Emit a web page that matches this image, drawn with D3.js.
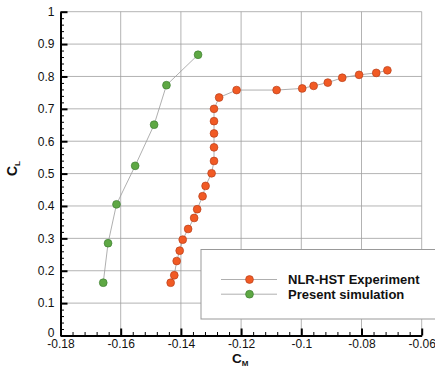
<!DOCTYPE html>
<html>
<head>
<style>
  body { margin: 0; background: #fff; }
  svg text { font-family: "Liberation Sans", Arial, Helvetica, sans-serif; }
</style>
</head>
<body>
<script src="https://d3js.org/d3.v7.min.js"></script>
<script>
// NLR-HST experiment (C_M, C_L)
const expCM = [-0.1434, -0.1422, -0.1414, -0.1404, -0.1394, -0.1376, -0.1356, -0.1346, -0.1328, -0.1318,
               -0.1298, -0.1290, -0.1290, -0.1290, -0.1290, -0.1290, -0.1273, -0.1215, -0.1082, -0.0997,
               -0.0959, -0.0912, -0.0864, -0.0808, -0.0751, -0.0714]
const expCL = [0.163, 0.186, 0.230, 0.262, 0.296, 0.329, 0.363, 0.390, 0.430, 0.462,
               0.501, 0.539, 0.581, 0.624, 0.662, 0.700, 0.735, 0.758, 0.758, 0.763,
               0.771, 0.781, 0.796, 0.805, 0.811, 0.819]

// present simulation
const simCM = [-0.1658, -0.1642, -0.1614, -0.1552, -0.1489, -0.1448, -0.1343]
const simCL = [0.163, 0.285, 0.405, 0.524, 0.651, 0.773, 0.867]

const xTicks = [-0.18, -0.16, -0.14, -0.12, -0.1, -0.08, -0.06]
const xTickLabels = ["-0.18", "-0.16", "-0.14", "-0.12", "-0.1", "-0.08", "-0.06"]
const yTicks = [0, 0.1, 0.2, 0.3, 0.4, 0.5, 0.6, 0.7, 0.8, 0.9, 1]
const yTickLabels = ["0", "0.1", "0.2", "0.3", "0.4", "0.5", "0.6", "0.7", "0.8", "0.9", "1"]
const seriesNames = ["NLR-HST Experiment", "Present simulation"]

const w = 435
const h = 372
const plotL = 60.5, plotR = 421.7, plotT = 11.7, plotB = 335.5

const x = d3.scaleLinear().domain([-0.18, -0.06]).range([plotL, plotR])
const y = d3.scaleLinear().domain([0, 1]).range([plotB, plotT])

const svg = d3.select("body").append("svg").attr("width", w).attr("height", h)

// grid
svg.append("g").selectAll("line").data(xTicks).enter().append("line")
  .attr("x1", d => x(d)).attr("x2", d => x(d)).attr("y1", plotT).attr("y2", plotB)
  .attr("stroke", "#a0a0a0").attr("stroke-width", 0.8)
svg.append("g").selectAll("line").data(yTicks).enter().append("line")
  .attr("y1", d => y(d)).attr("y2", d => y(d)).attr("x1", plotL).attr("x2", plotR)
  .attr("stroke", "#a0a0a0").attr("stroke-width", 0.8)

// minor ticks
const xMinor = d3.range(0, 31).map(i => -0.18 + i * 0.004).filter((d, i) => i % 5 != 0)
const yMinor = d3.range(0, 51).map(i => i * 0.02).filter((d, i) => i % 5 != 0)

svg.append("g").attr("transform", "translate(0," + plotB + ")")
  .call(d3.axisBottom(x).tickValues(xMinor).tickSize(-3.5).tickFormat(""))
  .call(g => g.select(".domain").remove())
  .selectAll("line").attr("stroke", "#000").attr("stroke-width", 1)
svg.append("g").attr("transform", "translate(" + plotL + ",0)")
  .call(d3.axisLeft(y).tickValues(yMinor).tickSize(-3.5).tickFormat(""))
  .call(g => g.select(".domain").remove())
  .selectAll("line").attr("stroke", "#000").attr("stroke-width", 1)

// major axes
const xAxis = svg.append("g").attr("transform", "translate(0," + plotB + ")")
  .call(d3.axisBottom(x).tickValues(xTicks).tickSize(-7).tickSizeOuter(0).tickPadding(4)
    .tickFormat((d, i) => xTickLabels[i]))
const yAxis = svg.append("g").attr("transform", "translate(" + plotL + ",0)")
  .call(d3.axisLeft(y).tickValues(yTicks).tickSize(-7).tickSizeOuter(0).tickPadding(6)
    .tickFormat((d, i) => yTickLabels[i]))

;[xAxis, yAxis].forEach(a => {
  a.select(".domain").attr("stroke", "#000").attr("stroke-width", 2)
  a.selectAll(".tick line").attr("stroke", "#000").attr("stroke-width", 2)
  a.selectAll("text").attr("font-size", 12).attr("fill", "#111")
    .style("font-family", "'Liberation Sans', Arial, sans-serif")
})
// the "0" label sits just above the first x label, as in the source
yAxis.selectAll(".tick text").filter(d => d === 0).attr("dy", "0.1em")

// series
const expData = expCM.map((d, i) => [d, expCL[i]])
const simData = simCM.map((d, i) => [d, simCL[i]])
const line = d3.line().x(d => x(d[0])).y(d => y(d[1]))

const orange = "#f15a24", orangeEdge = "#b8401c"
const green = "#5ea844", greenEdge = "#3f7f33"

svg.append("path").datum(expData).attr("d", line)
  .attr("fill", "none").attr("stroke", "#9a9a9a").attr("stroke-width", 0.8)
svg.append("path").datum(simData).attr("d", line)
  .attr("fill", "none").attr("stroke", "#9a9a9a").attr("stroke-width", 0.8)

svg.append("g").selectAll("circle").data(expData).enter().append("circle")
  .attr("cx", d => x(d[0])).attr("cy", d => y(d[1])).attr("r", 3.9)
  .attr("fill", orange).attr("stroke", orangeEdge).attr("stroke-width", 0.7)
svg.append("g").selectAll("circle").data(simData).enter().append("circle")
  .attr("cx", d => x(d[0])).attr("cy", d => y(d[1])).attr("r", 3.9)
  .attr("fill", green).attr("stroke", greenEdge).attr("stroke-width", 0.7)

// legend
const lg = svg.append("g")
lg.append("rect").attr("x", 201).attr("y", 249.5).attr("width", 250).attr("height", 69.5)
  .attr("fill", "#fff").attr("stroke", "#999").attr("stroke-width", 1)
const legendColors = [[orange, orangeEdge], [green, greenEdge]]
seriesNames.forEach((name, i) => {
  const ly = 279.5 + i * 14.7
  lg.append("line").attr("x1", 221).attr("x2", 277).attr("y1", ly).attr("y2", ly)
    .attr("stroke", "#9a9a9a").attr("stroke-width", 0.8)
  lg.append("circle").attr("cx", 249.5).attr("cy", ly).attr("r", 3.9)
    .attr("fill", legendColors[i][0]).attr("stroke", legendColors[i][1]).attr("stroke-width", 0.7)
  lg.append("text").attr("x", 288).attr("y", ly + 4.6).text(name)
    .attr("font-size", 13).attr("font-weight", "bold").attr("fill", "#111")
})

// axis titles
const xt = svg.append("text").attr("x", 232).attr("y", 362.5)
  .attr("font-size", 13.5).attr("font-weight", "bold").attr("fill", "#111")
xt.append("tspan").text("C")
xt.append("tspan").text("M").attr("font-size", 8).attr("dy", 3)

const yt = svg.append("text").attr("transform", "translate(17,176) rotate(-90)")
  .attr("font-size", 14).attr("font-weight", "bold").attr("fill", "#111")
yt.append("tspan").text("C")
yt.append("tspan").text("L").attr("font-size", 8).attr("dy", 3)
</script>
</body>
</html>
